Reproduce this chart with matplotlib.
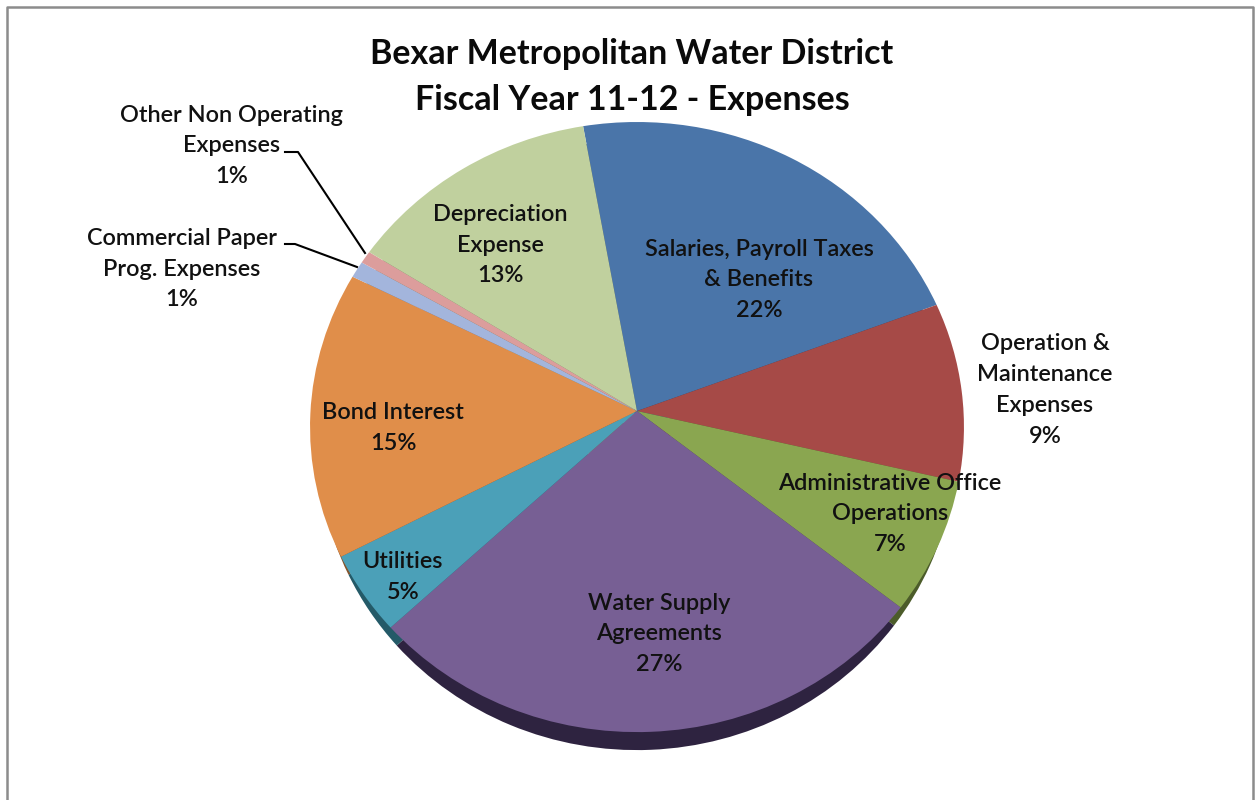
import numpy as np
import matplotlib
matplotlib.use('Agg')
import matplotlib.pyplot as plt
from matplotlib.transforms import Transform

plt.rcParams['font.family'] = ['Lato', 'DejaVu Sans']

categories = ['Salaries, Payroll Taxes\n& Benefits', 'Operation &\nMaintenance\nExpenses',
              'Administrative Office\nOperations', 'Water Supply\nAgreements', 'Utilities',
              'Bond Interest', 'Commercial Paper\nProg. Expenses',
              'Other Non Operating\nExpenses', 'Depreciation\nExpense']
values = [22.0, 9.47, 7.05, 27.23, 4.3, 15.2, 0.89, 0.67, 13.2]
pct_labels = ['22%', '9%', '7%', '27%', '5%', '15%', '1%', '1%', '13%']

colors = ['#4a75a9', '#a64a47', '#8aa650', '#775f94', '#4ba0b8', '#e08e4a', '#a3b5dc', '#dc9d9c', '#c0d09e']
side_colors = ['#2b4465', '#632b2a', '#4c5c2a', '#2e2340', '#245a68', '#84532b', '#616c83', '#835d5d', '#727c5e']

# centre of each label in pixels
label_x = [759, 1045, 890, 659, 403, 393, 182, 232, 500]
label_y = [280, 390, 514, 634, 577, 428, 269, 146, 245]

W, H = 1259, 800
CX, CY = 637, 411
A, B, P = 326.5, 304.2, 0.0526
DEPTH = 18


class Tilt(Transform):
    # unit circle -> tilted disc in pixel coordinates
    input_dims = output_dims = 2

    def __init__(self, shift=0, narrow=1.0):
        super().__init__()
        self.shift = shift
        self.narrow = narrow

    def transform_non_affine(self, xy):
        xy = np.asarray(xy)
        w = 1 + P * xy[:, 1]
        return np.column_stack([CX + self.narrow * A * xy[:, 0] / w, CY + self.shift - B * xy[:, 1] / w])


fig = plt.figure(figsize=(W / 100, H / 100), dpi=100)
ax = fig.add_axes([0, 0, 1, 1])

side, _ = ax.pie(values, colors=side_colors, startangle=100, counterclock=False)
top, _ = ax.pie(values, colors=colors, startangle=100, counterclock=False)
for w in side:
    w.set_transform(Tilt(DEPTH, 0.975) + ax.transData)
for w in top:
    w.set_transform(Tilt() + ax.transData)

ax.set_aspect('auto')
ax.set_xlim(0, W)
ax.set_ylim(H, 0)
ax.axis('off')

for name, pct, x, y in zip(categories, pct_labels, label_x, label_y):
    ax.text(x, y, name + '\n' + pct, ha='center', va='center', fontsize=16.9,
            color='#111111', linespacing=1.58, fontweight='semibold')

ax.text(632, 77, 'Bexar Metropolitan Water District\nFiscal Year 11-12 - Expenses', ha='center', va='center',
        fontsize=24.5, fontweight='bold', color='#0a0a0a', linespacing=1.5)

# leader lines
ax.plot([285, 298, 365], [152, 152, 253], color='black', lw=1.5)
ax.plot([285, 295, 357], [244, 244, 267], color='black', lw=1.5)

# chart frame
ax.plot([7, 7, 1253, 1253], [800, 7, 7, 800], color='#8c8c8c', lw=1.8)

fig.savefig('out.png', dpi=100, facecolor='white')
